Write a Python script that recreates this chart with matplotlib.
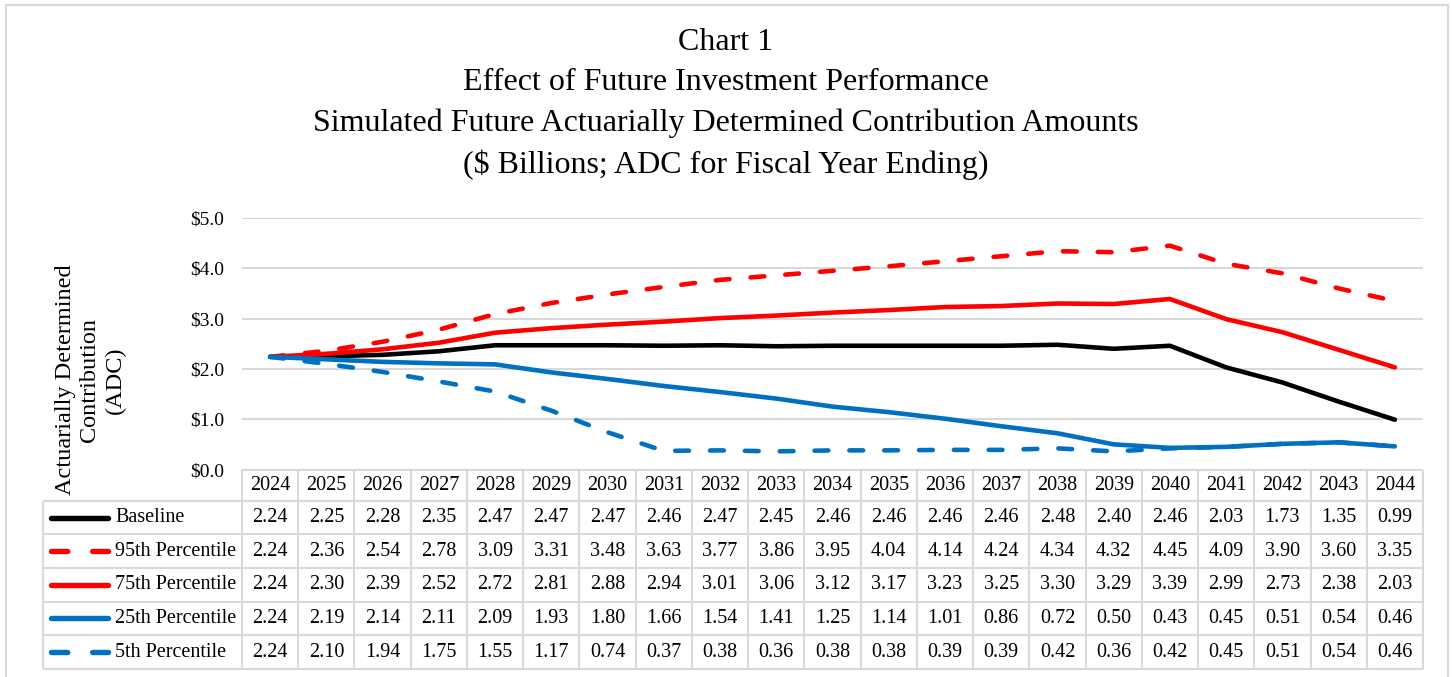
import numpy as np
import matplotlib
matplotlib.use('Agg')
import matplotlib.pyplot as plt
from matplotlib.patches import Rectangle
from matplotlib.lines import Line2D

plt.rcParams['font.family'] = ['Liberation Serif', 'DejaVu Serif']

years = [str(y) for y in range(2024, 2045)]
baseline = [2.24, 2.25, 2.28, 2.35, 2.47, 2.47, 2.47, 2.46, 2.47, 2.45, 2.46,
            2.46, 2.46, 2.46, 2.48, 2.40, 2.46, 2.03, 1.73, 1.35, 0.99]
p95 = [2.24, 2.36, 2.54, 2.78, 3.09, 3.31, 3.48, 3.63, 3.77, 3.86, 3.95,
       4.04, 4.14, 4.24, 4.34, 4.32, 4.45, 4.09, 3.90, 3.60, 3.35]
p75 = [2.24, 2.30, 2.39, 2.52, 2.72, 2.81, 2.88, 2.94, 3.01, 3.06, 3.12,
       3.17, 3.23, 3.25, 3.30, 3.29, 3.39, 2.99, 2.73, 2.38, 2.03]
p25 = [2.24, 2.19, 2.14, 2.11, 2.09, 1.93, 1.80, 1.66, 1.54, 1.41, 1.25,
       1.14, 1.01, 0.86, 0.72, 0.50, 0.43, 0.45, 0.51, 0.54, 0.46]
p5 = [2.24, 2.10, 1.94, 1.75, 1.55, 1.17, 0.74, 0.37, 0.38, 0.36, 0.38,
      0.38, 0.39, 0.39, 0.42, 0.36, 0.42, 0.45, 0.51, 0.54, 0.46]

series_names = ['Baseline', '95th Percentile', '75th Percentile',
                '25th Percentile', '5th Percentile']
series_vals = [baseline, p95, p75, p25, p5]
colors = ['#000000', '#FF0000', '#FF0000', '#0070C0', '#0070C0']
dashed = [False, True, False, False, True]

W, H = 1452, 677
fig = plt.figure(figsize=(W / 100, H / 100), dpi=100)

# pixel layout of the excel chart
x0, x1 = 242, 1423
ytop, ybot = 218, 469.5
tab_top, tab_bot = 469.5, 669
grid_c = '#d9d9d9'
lw = 3.3
dash = (0, (3.0, 4.6))

def fx(px):
    return px / W

def fy(py):
    return 1 - py / H

# outer chart border
fig.patches.append(Rectangle((fx(6), fy(690)), fx(1448) - fx(6), fy(5) - fy(690),
                             transform=fig.transFigure, fill=False,
                             edgecolor=grid_c, lw=1.5))

fig.text(0.5, fy(104), 'Chart 1\nEffect of Future Investment Performance\n'
         'Simulated Future Actuarially Determined Contribution Amounts\n'
         '($ Billions; ADC for Fiscal Year Ending)',
         ha='center', va='center', fontsize=23, linespacing=1.49)

ax = fig.add_axes([fx(x0), fy(ybot), fx(x1) - fx(x0), fy(ytop) - fy(ybot)])
x = np.arange(len(years))
for vals, c, d in zip(series_vals, colors, dashed):
    if d:
        ax.plot(x, vals, color=c, lw=lw, linestyle=dash,
                dash_capstyle='round', solid_joinstyle='round')
    else:
        ax.plot(x, vals, color=c, lw=lw, solid_capstyle='round',
                solid_joinstyle='round')
ax.set_xlim(-0.5, len(years) - 0.5)
ax.set_ylim(0, 5)
ax.set_yticks(np.arange(0, 6, 1))
ax.set_yticklabels([f'${v:.1f}' for v in np.arange(0, 6, 1)], fontsize=14)
ax.set_xticks([])
ax.grid(axis='y', color=grid_c, lw=1.5)
ax.set_axisbelow(True)
ax.tick_params(axis='y', length=0, pad=13)
for s in ax.spines.values():
    s.set_visible(False)

fig.text(fx(90), fy(380), 'Actuarially Determined\nContribution\n(ADC)',
         rotation=90, ha='center', va='center', fontsize=17.5, linespacing=1.24)

# data table under the plot
tab = fig.add_axes([fx(x0), fy(tab_bot), fx(x1) - fx(x0), fy(tab_top) - fy(tab_bot)])
tab.set_xlim(-0.5, len(years) - 0.5)
row_edges = [0, 0.94, 1.95, 2.96, 3.97, 4.99, 6.0]
tab.set_ylim(6, 0)
tab.axis('off')

col_w = (x1 - x0) / len(years)
leg_left = -0.5 - (x0 - 43) / col_w
line_a = -0.5 - (x0 - 51) / col_w
line_b = -0.5 - (x0 - 108) / col_w
lab_x = -0.5 - (x0 - 115) / col_w

gk = dict(color=grid_c, lw=1.5, clip_on=False, solid_capstyle='butt')
for i in range(len(years) + 1):
    tab.plot([i - 0.5, i - 0.5], [row_edges[0], row_edges[-1]], **gk)
tab.plot([-0.5, len(years) - 0.5], [row_edges[0], row_edges[0]], **gk)
for r in row_edges[1:]:
    tab.plot([leg_left, len(years) - 0.5], [r, r], **gk)
tab.plot([leg_left, leg_left], [row_edges[1], row_edges[-1]], **gk)

for i, yr in enumerate(years):
    tab.text(i, (row_edges[0] + row_edges[1]) / 2, yr, ha='center', va='center',
             fontsize=14.5)

for k, (name, vals, c, d) in enumerate(zip(series_names, series_vals, colors, dashed)):
    yc = (row_edges[k + 1] + row_edges[k + 2]) / 2
    for i, v in enumerate(vals):
        tab.text(i, yc, f'{v:.2f}', ha='center', va='center', fontsize=14.5)
    ls = dash if d else '-'
    ln = Line2D([line_a, line_b], [yc, yc], color=c, lw=lw + 0.6, linestyle=ls,
                dash_capstyle='round', solid_capstyle='round', clip_on=False)
    tab.add_line(ln)
    tab.text(lab_x, yc, name, ha='left', va='center', fontsize=14.5)

fig.savefig('out.png', dpi=100)
